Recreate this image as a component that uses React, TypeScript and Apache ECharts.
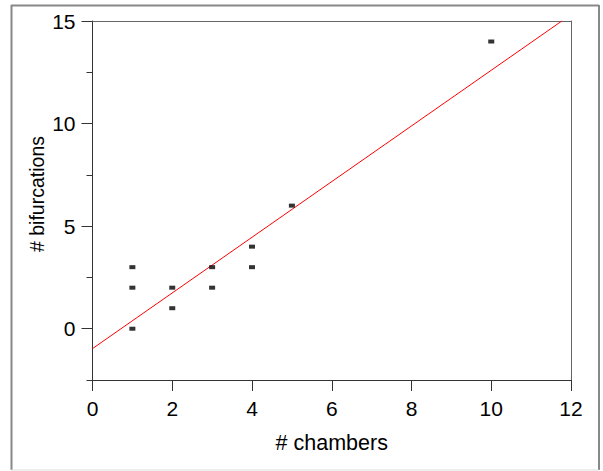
import React, { useEffect, useRef } from "react";
import * as echarts from "echarts";

const xValues = [1, 1, 1, 2, 2, 3, 3, 4, 4, 5, 10];
const yValues = [3, 2, 0, 2, 1, 3, 2, 4, 3, 6, 14];
const fitLine = [
  [0, -0.97],
  [11.77, 15],
];
const yMajorTicks = [0, 5, 10, 15];
const yMinorTicks = [-2.5, 2.5, 7.5, 12.5];

const FONT = "'Liberation Sans', Arial, sans-serif";

export default function App() {
  const ref = useRef<HTMLDivElement>(null);
  useEffect(() => {
    if (!ref.current) return;
    const chart = echarts.init(ref.current, undefined, { renderer: "svg" });
    const points = xValues.map((x, i) => [x, yValues[i]]);
    chart.setOption({
      animation: false,
      backgroundColor: "#fff",
      grid: { left: 92.5, top: 21, right: 32, bottom: 91, containLabel: false },
      graphic: [
        { type: "line", shape: { x1: 11, y1: 5.5, x2: 599, y2: 5.5 }, style: { stroke: "#888", lineWidth: 2 } },
        { type: "line", shape: { x1: 11.5, y1: 5, x2: 11.5, y2: 470 }, style: { stroke: "#888", lineWidth: 2 } },
        { type: "line", shape: { x1: 599, y1: 5, x2: 599, y2: 470 }, style: { stroke: "#888", lineWidth: 2 } },
        { type: "line", shape: { x1: 11, y1: 470, x2: 599, y2: 470 }, style: { stroke: "#ddd", lineWidth: 1 } },
      ],
      xAxis: [
        {
          type: "value",
          min: 0,
          max: 12,
          interval: 2,
          position: "bottom",
          name: "# chambers",
          nameLocation: "middle",
          nameGap: 52,
          nameMoveOverlap: false,
          nameTextStyle: { fontFamily: FONT, fontSize: 21.5, color: "#000" },
          axisLine: { show: true, onZero: false, lineStyle: { color: "#333", width: 1 } },
          axisTick: { show: true, inside: false, length: 11, lineStyle: { color: "#333" } },
          axisLabel: { fontFamily: FONT, fontSize: 21, color: "#000", margin: 18 },
          splitLine: { show: false },
        },
        {
          type: "value",
          min: 0,
          max: 12,
          position: "top",
          axisLine: { show: true, onZero: false, lineStyle: { color: "#666", width: 1 } },
          axisTick: { show: false },
          axisLabel: { show: false },
          splitLine: { show: false },
        },
      ],
      yAxis: [
        {
          type: "value",
          min: -2.5,
          max: 15,
          position: "left",
          name: "# bifurcations",
          nameLocation: "middle",
          nameGap: 46,
          nameMoveOverlap: false,
          nameTextStyle: { fontFamily: FONT, fontSize: 19.5, color: "#000", padding: [0, 0, 0, 13] },
          axisLine: { show: true, onZero: false, lineStyle: { color: "#333", width: 1 } },
          axisTick: { show: true, length: 11, lineStyle: { color: "#333" }, customValues: yMajorTicks },
          axisLabel: { fontFamily: FONT, fontSize: 21, color: "#000", margin: 17, customValues: yMajorTicks },
          splitLine: { show: false },
        },
        {
          type: "value",
          min: -2.5,
          max: 15,
          position: "left",
          axisLine: { show: false, onZero: false },
          axisTick: { show: true, length: 6, lineStyle: { color: "#333" }, customValues: yMinorTicks },
          axisLabel: { show: false },
          splitLine: { show: false },
        },
        {
          type: "value",
          min: -2.5,
          max: 15,
          position: "right",
          axisLine: { show: true, onZero: false, lineStyle: { color: "#666", width: 1 } },
          axisTick: { show: false },
          axisLabel: { show: false },
          splitLine: { show: false },
        },
      ],
      series: [
        {
          type: "line",
          data: fitLine,
          xAxisIndex: 0,
          yAxisIndex: 0,
          symbol: "none",
          lineStyle: { color: "#ff0000", width: 1 },
          clip: true,
          z: 2,
        },
        {
          type: "scatter",
          data: points,
          xAxisIndex: 0,
          yAxisIndex: 0,
          symbol: "rect",
          symbolSize: [6, 4],
          itemStyle: { color: "#000" },
          z: 3,
        },
      ],
    });
    return () => chart.dispose();
  }, []);
  return (
    <div
      ref={ref}
      style={{ position: "absolute", left: 0, top: 0, width: 603, height: 471 }}
    />
  );
}
